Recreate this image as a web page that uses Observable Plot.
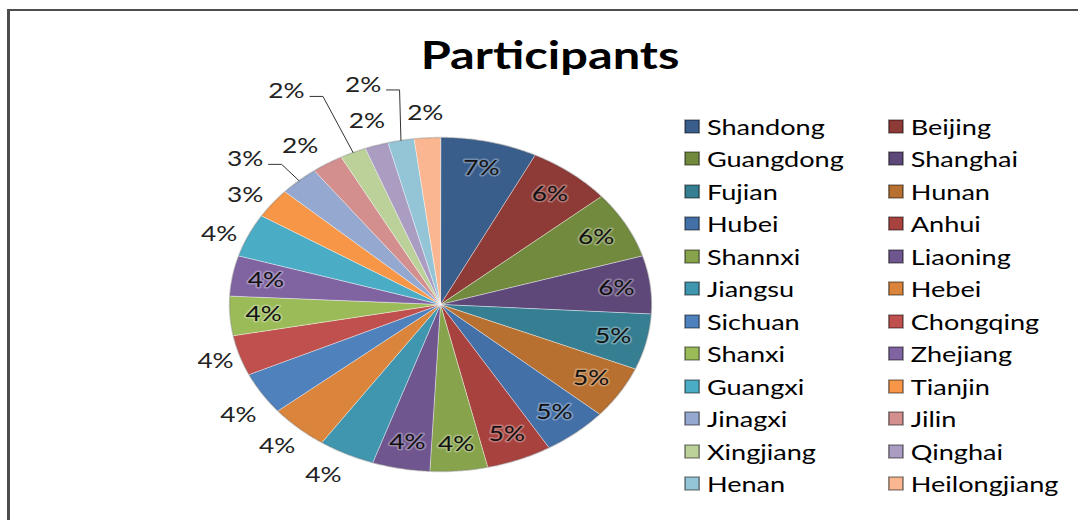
<!DOCTYPE html>
<html>
<head>
<meta charset="utf-8">
<script src="https://cdn.jsdelivr.net/npm/d3@7"></script>
<script src="https://cdn.jsdelivr.net/npm/@observablehq/plot@0.6"></script>
<style>
html, body { margin: 0; padding: 0; background: #fff; }
#wrap { position: relative; width: 1078px; height: 520px; overflow: hidden; background: #fff; }
#frame { position: absolute; left: 7px; top: 9px; width: 1100px; height: 600px; border-top: 2px solid #4d4d4d; border-left: 3px solid #4d4d4d; box-sizing: border-box; }
#chart { position: absolute; left: 0; top: 0; }
#title { position: absolute; left: 0; top: 35px; width: 1100px; text-align: center; font-family: Lato, sans-serif; font-weight: bold; font-size: 39px; line-height: 39px; color: #000; transform: scaleX(1.25); transform-origin: 550px 0; }
#legend { position: absolute; left: 685px; top: 110px; width: 320px; transform: scaleX(1.29); transform-origin: 0 0; }
#legend .lg-swatches { display: flex; flex-wrap: wrap; align-items: center; font-family: Lato, sans-serif; font-size: 21px; color: #000; margin: 0; min-height: 0; }
#legend .lg-swatch { box-sizing: border-box; width: 158px; height: 32.5px; margin: 0; display: inline-flex; align-items: center; white-space: nowrap; }
#legend .lg-swatch > svg { margin-right: 6px; overflow: visible; }
#legend .lg-swatch svg rect { stroke: rgba(0,0,0,0.45); stroke-width: 1.3px; }
</style>
</head>
<body>
<div id="wrap">
  <div id="frame"></div>
  <div id="chart"></div>
  <div id="title"></div>
  <div id="legend"></div>
</div>
<script>
// ---- data ----
const chartTitle = "Participants";
const provinces = ["Shandong","Beijing","Guangdong","Shanghai","Fujian","Hunan","Hubei","Anhui",
  "Shannxi","Liaoning","Jiangsu","Hebei","Sichuan","Chongqing","Shanxi","Zhejiang",
  "Guangxi","Tianjin","Jinagxi","Jilin","Xingjiang","Qinghai","Henan","Heilongjiang"];
const shares = [7.4, 6.4, 6.5, 5.6, 5.4, 5.1, 5.0, 5.0,
  4.4, 4.4, 4.3, 4.5, 4.1, 3.9, 3.8, 3.9,
  4.2, 2.9, 3.0, 2.4, 2.0, 1.8, 2.0, 2.0];
const sliceColors = ["#3a5e8c","#8e3b38","#728a3e","#5e4879","#367e92","#b7702f","#4470a8","#a8423f",
  "#87a34b","#6f568f","#3f96ae","#db843b","#4f81bd","#c0504d","#9bbb59","#8064a2",
  "#4bacc6","#f79646","#95a9d0","#d28f8e","#bcd19a","#aa9dc1","#93c5d7","#f9b690"];

// ---- layout options ----
const W = 1078, H = 520;
const pieLeft = 229, pieRight = 651, pieTop = 137, pieBottom = 471;
const pxX = (pieRight - pieLeft) / 2, pxY = (pieBottom - pieTop) / 2;
const outsideLabels = new Set(["Jiangsu","Hebei","Sichuan","Chongqing","Guangxi","Tianjin",
  "Jinagxi","Jilin","Xingjiang","Qinghai","Henan","Heilongjiang"]);
// label nudges (radius factor, angular shift in degrees); leader = draw a callout line
const labelNudges = {
  Jiangsu: {r: 1.165, shift: 2}, Sichuan: {r: 1.165, shift: -2.5}, Chongqing: {r: 1.12, shift: 0},
  Guangxi: {r: 1.13, shift: -2.7}, Tianjin: {r: 1.133, shift: -2.1}, Jilin: {r: 1.16, shift: -2.6},
  Jinagxi: {r: 1.27, shift: -4.7, leader: true}, Xingjiang: {r: 1.47, shift: -5.3, leader: true},
  Henan: {r: 1.365, shift: -4.8, leader: true}
};
const insideR = 0.84, outsideR = 1.15;

// ---- derived geometry ----
const total = d3.sum(shares);
const arcs = d3.pie().sort(null).value(d => d)(shares);
const slicePts = [], rimPts = [];
provinces.forEach((name, i) => {
  const {startAngle: a0, endAngle: a1} = arcs[i];
  slicePts.push({name, x: 0, y: 0});
  const n = Math.max(4, Math.ceil((a1 - a0) / 0.01));
  for (let k = 0; k <= n; ++k) {
    const a = a0 + (a1 - a0) * k / n;
    slicePts.push({name, x: Math.sin(a), y: Math.cos(a)});
    rimPts.push({x: Math.sin(a), y: Math.cos(a)});
  }
});
const insideLabelData = [], outsideLabelData = [], leaderPts = [];
provinces.forEach((name, i) => {
  const mid = (arcs[i].startAngle + arcs[i].endAngle) / 2;
  const text = Math.round(shares[i] / total * 100) + "%";
  if (!outsideLabels.has(name)) {
    insideLabelData.push({name, text, x: insideR * Math.sin(mid), y: insideR * Math.cos(mid)});
    return;
  }
  const c = labelNudges[name];
  const r = c ? c.r : outsideR;
  const a = mid + (c ? c.shift * Math.PI / 180 : 0);
  const lx = r * Math.sin(a), ly = r * Math.cos(a);
  outsideLabelData.push({name, text, x: lx, y: ly});
  if (c && c.leader) {
    const ax = lx + 23.5 / pxX, ay = ly - 5 / pxY;
    leaderPts.push({name, x: ax, y: ay});
    leaderPts.push({name, x: ax + 13 / pxX, y: ay});
    leaderPts.push({name, x: Math.sin(mid), y: Math.cos(mid)});
  }
});

const plot = Plot.plot({
  width: W, height: H,
  marginLeft: pieLeft, marginRight: W - pieRight, marginTop: pieTop, marginBottom: H - pieBottom,
  x: {domain: [-1, 1], axis: null},
  y: {domain: [-1, 1], axis: null},
  color: {domain: provinces, range: sliceColors},
  style: {background: "transparent", fontFamily: "Lato, sans-serif"},
  marks: [
    Plot.line(slicePts, {x: "x", y: "y", z: "name", fill: "name", stroke: "#ffffff", strokeOpacity: 0.55, strokeWidth: 0.8, curve: "linear-closed"}),
    Plot.line(rimPts, {x: "x", y: "y", stroke: "#000", strokeOpacity: 0.18, strokeWidth: 1.5, curve: "linear-closed"}),
    Plot.line(leaderPts, {x: "x", y: "y", z: "name", stroke: "#333", strokeWidth: 1}),
    Plot.text(insideLabelData, {x: "x", y: "y", text: "text", fontSize: 21, fontFamily: "Lato, sans-serif", fill: "#111", stroke: "#ffffff", strokeOpacity: 0.3, strokeWidth: 3}),
    Plot.text(outsideLabelData, {x: "x", y: "y", text: "text", fontSize: 21, fontFamily: "Lato, sans-serif", fill: "#222"})
  ]
});
document.getElementById("chart").append(plot);
d3.select(plot).selectAll('g[aria-label="text"] text').each(function () {
  const L = this.getComputedTextLength();
  this.setAttribute("textLength", (L * 1.25).toFixed(1));
  this.setAttribute("lengthAdjust", "spacingAndGlyphs");
});

document.getElementById("title").textContent = chartTitle;
const legend = Plot.legend({color: {domain: provinces, range: sliceColors}, legend: "swatches", className: "lg", swatchWidth: 11, swatchHeight: 13});
document.getElementById("legend").append(legend);
</script>
</body>
</html>
